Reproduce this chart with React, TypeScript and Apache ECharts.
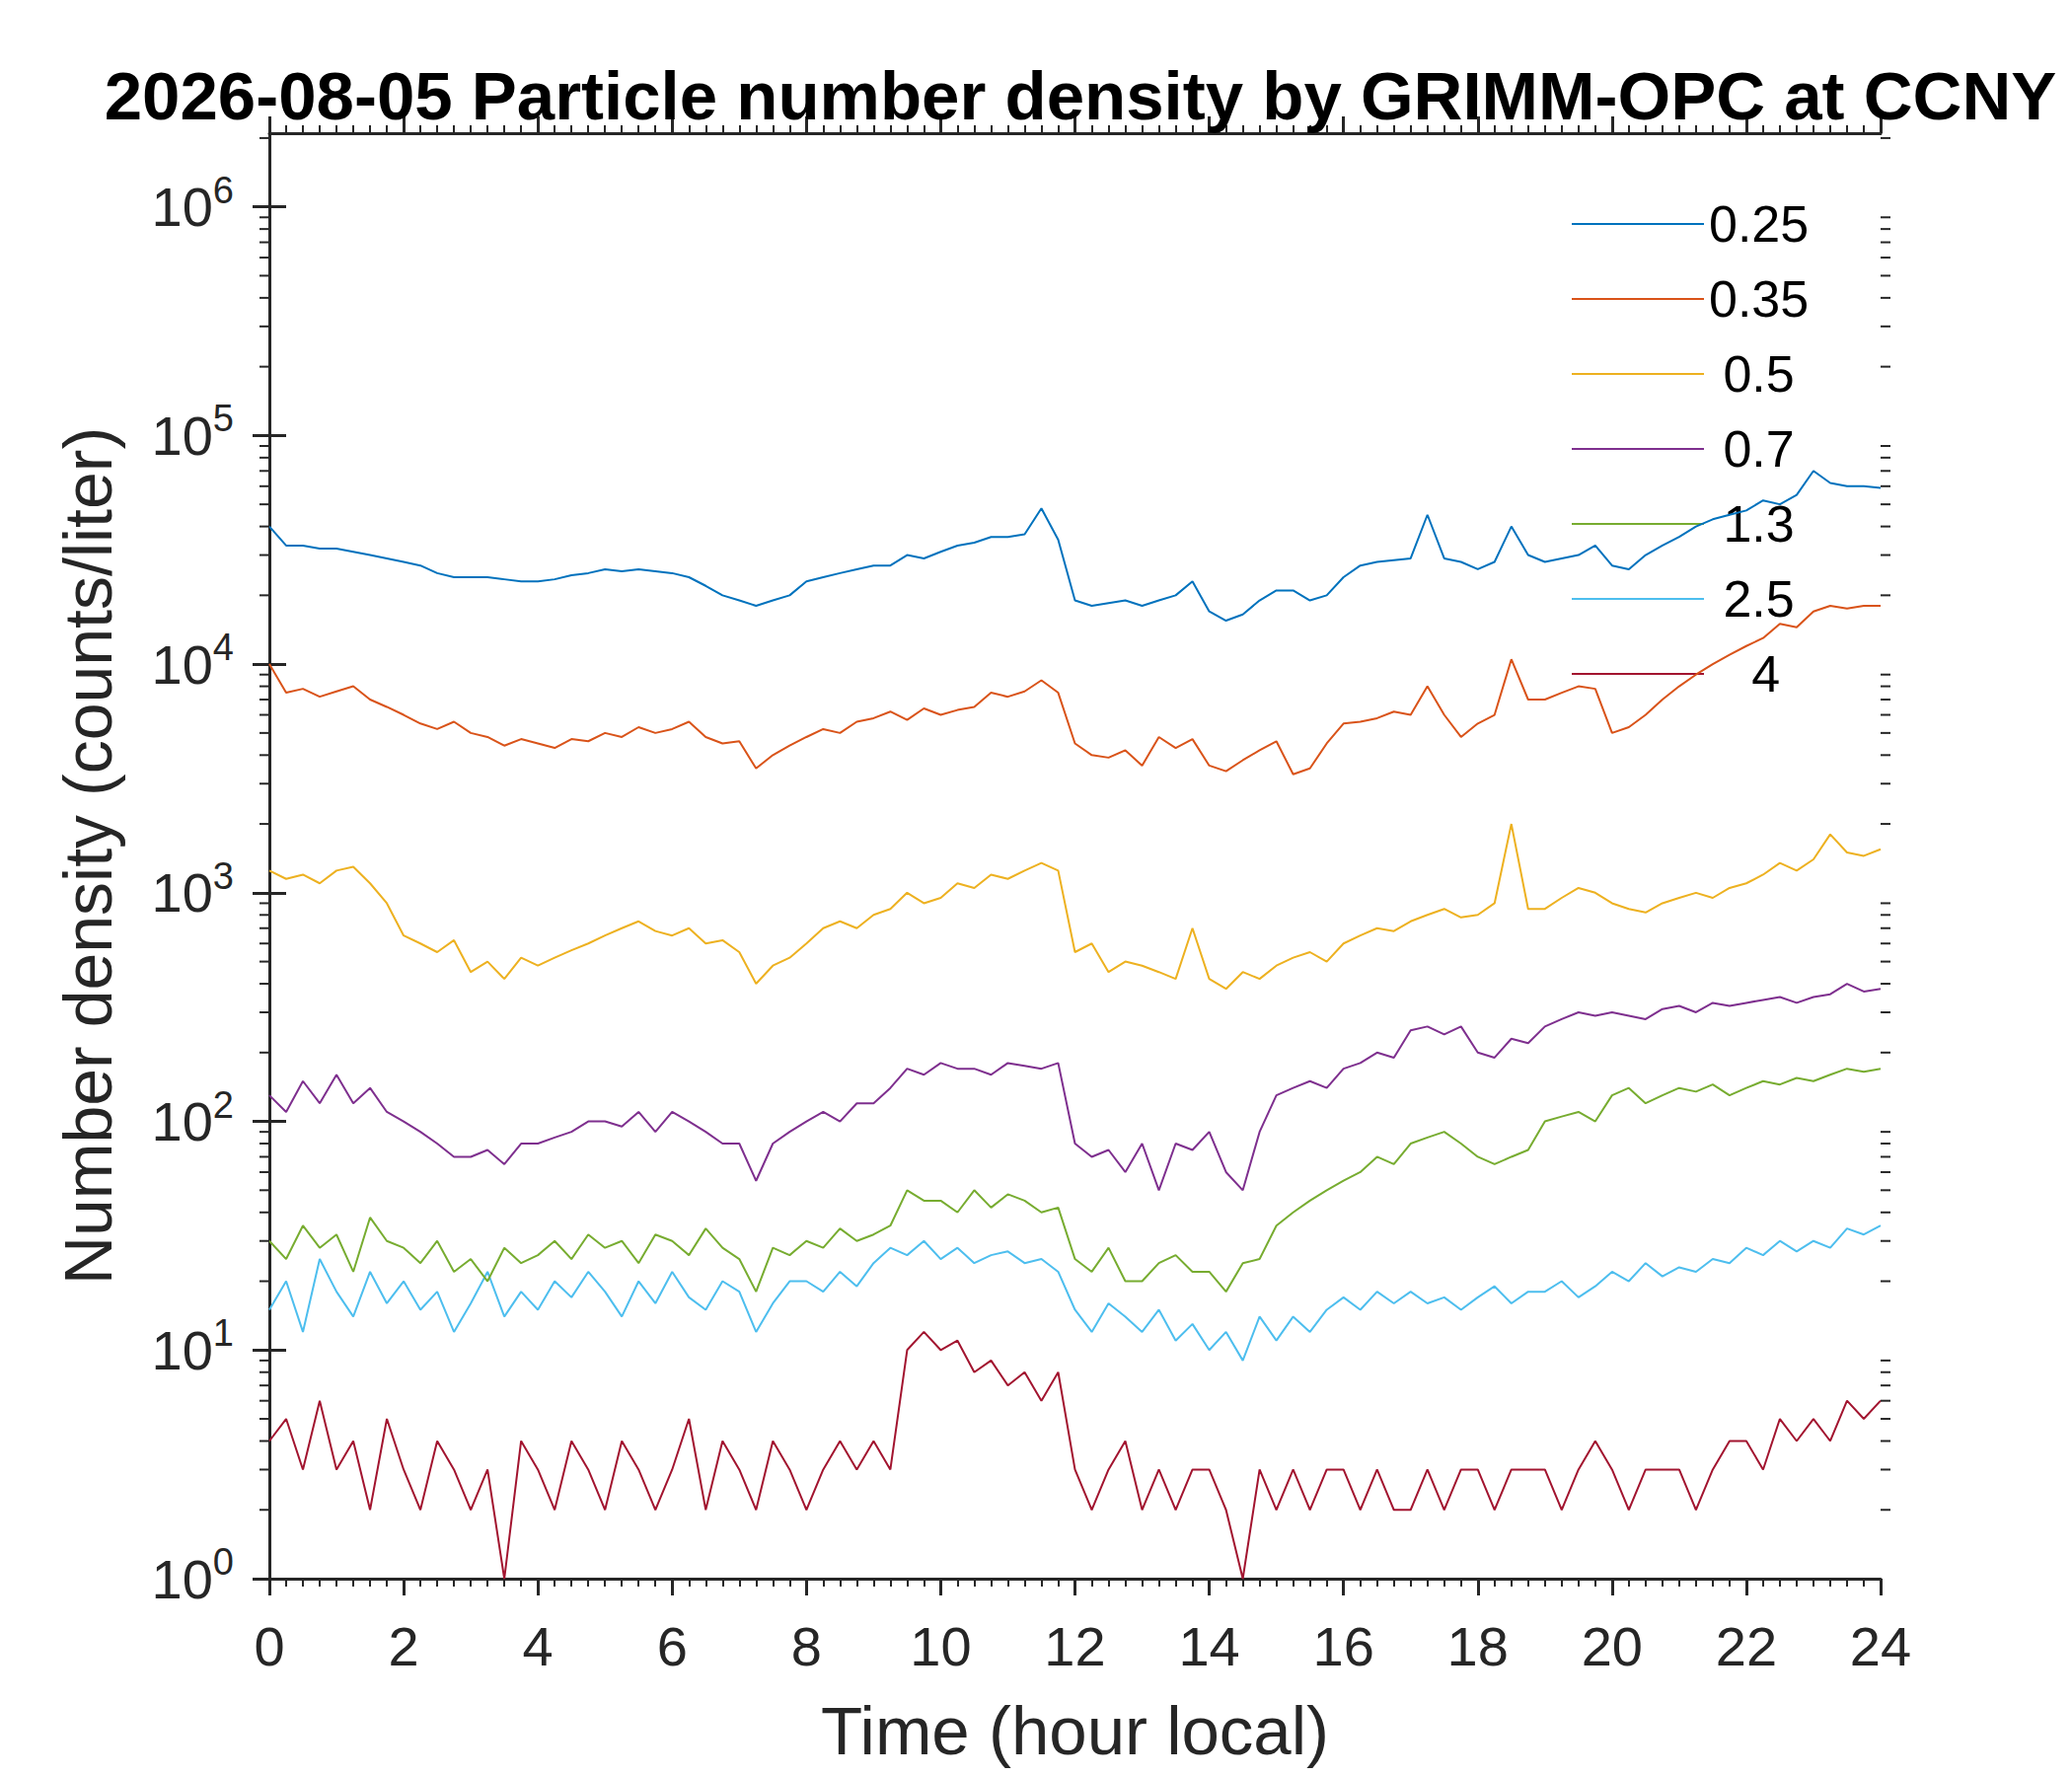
import { useEffect, useRef } from 'react'
import * as echarts from 'echarts'

const STEP = 0.25 // sample every 15 minutes
const SIZES = ['0.25', '0.35', ' 0.5', ' 0.7', ' 1.3', ' 2.5', '   4']
const COLORS = ['#0072BD', '#D95319', '#EDB120', '#7E2F8E', '#77AC30', '#4DBEEE', '#A2142F']

const d025 = [
  40000,33000,33000,32000, 32000,31000,30000,29000, 28000,27000,25000,24000, 24000,24000,23500,23000,
  23000,23500,24500,25000, 26000,25500,26000,25500, 25000,24000,22000,20000, 19000,18000,19000,20000,
  23000,24000,25000,26000, 27000,27000,30000,29000, 31000,33000,34000,36000, 36000,37000,48000,35000,
  19000,18000,18500,19000, 18000,19000,20000,23000, 17000,15500,16500,19000, 21000,21000,19000,20000,
  24000,27000,28000,28500, 29000,45000,29000,28000, 26000,28000,40000,30000, 28000,29000,30000,33000,
  27000,26000,30000,33000, 36000,40000,43000,45000, 47000,52000,50000,55000, 70000,62000,60000,60000, 59000,
]
const d035 = [
  10000,7500,7800,7200, 7600,8000,7000,6500, 6000,5500,5200,5600, 5000,4800,4400,4700,
  4500,4300,4700,4600, 5000,4800,5300,5000, 5200,5600,4800,4500, 4600,3500,4000,4400,
  4800,5200,5000,5600, 5800,6200,5700,6400, 6000,6300,6500,7500, 7200,7600,8500,7500,
  4500,4000,3900,4200, 3600,4800,4300,4700, 3600,3400,3800,4200, 4600,3300,3500,4500,
  5500,5600,5800,6200, 6000,8000,6000,4800, 5500,6000,10500,7000, 7000,7500,8000,7800,
  5000,5300,6000,7000, 8000,9000,10000,11000, 12000,13000,15000,14500, 17000,18000,17500,18000, 18000,
]
const d05 = [
  1250,1150,1200,1100, 1250,1300,1100,900, 650,600,550,620, 450,500,420,520,
  480,520,560,600, 650,700,750,680, 650,700,600,620, 550,400,480,520,
  600,700,750,700, 800,850,1000,900, 950,1100,1050,1200, 1150,1250,1350,1250,
  550,600,450,500, 480,450,420,700, 420,380,450,420, 480,520,550,500,
  600,650,700,680, 750,800,850,780, 800,900,2000,850, 850,950,1050,1000,
  900,850,820,900, 950,1000,950,1050, 1100,1200,1350,1250, 1400,1800,1500,1450, 1550,
]
const d07 = [
  130,110,150,120, 160,120,140,110, 100,90,80,70, 70,75,65,80,
  80,85,90,100, 100,95,110,90, 110,100,90,80, 80,55,80,90,
  100,110,100,120, 120,140,170,160, 180,170,170,160, 180,175,170,180,
  80,70,75,60, 80,50,80,75, 90,60,50,90, 130,140,150,140,
  170,180,200,190, 250,260,240,260, 200,190,230,220, 260,280,300,290,
  300,290,280,310, 320,300,330,320, 330,340,350,330, 350,360,400,370, 380,
]
const d13 = [
  30,25,35,28, 32,22,38,30, 28,24,30,22, 25,20,28,24,
  26,30,25,32, 28,30,24,32, 30,26,34,28, 25,18,28,26,
  30,28,34,30, 32,35,50,45, 45,40,50,42, 48,45,40,42,
  25,22,28,20, 20,24,26,22, 22,18,24,25, 35,40,45,50,
  55,60,70,65, 80,85,90,80, 70,65,70,75, 100,105,110,100,
  130,140,120,130, 140,135,145,130, 140,150,145,155, 150,160,170,165, 170,
]
const d25 = [
  15,20,12,25, 18,14,22,16, 20,15,18,12, 16,22,14,18,
  15,20,17,22, 18,14,20,16, 22,17,15,20, 18,12,16,20,
  20,18,22,19, 24,28,26,30, 25,28,24,26, 27,24,25,22,
  15,12,16,14, 12,15,11,13, 10,12,9,14, 11,14,12,15,
  17,15,18,16, 18,16,17,15, 17,19,16,18, 18,20,17,19,
  22,20,24,21, 23,22,25,24, 28,26,30,27, 30,28,34,32, 35,
]
const d4 = [
  4,5,3,6, 3,4,2,5, 3,2,4,3, 2,3,1,4,
  3,2,4,3, 2,4,3,2, 3,5,2,4, 3,2,4,3,
  2,3,4,3, 4,3,10,12, 10,11,8,9, 7,8,6,8,
  3,2,3,4, 2,3,2,3, 3,2,1,3, 2,3,2,3,
  3,2,3,2, 2,3,2,3, 3,2,3,3, 3,2,3,4,
  3,2,3,3, 3,2,3,4, 4,3,5,4, 5,4,6,5, 6,
]
const SERIES = [d025, d035, d05, d07, d13, d25, d4]

const Y_MIN = 1
const Y_MAX = 2.1e6
const AXIS = '#262626'
const FONT = '"Liberation Sans", Arial, sans-serif'

export default function App() {
  const ref = useRef<HTMLDivElement>(null)

  useEffect(() => {
    if (!ref.current) return
    const chart = echarts.init(ref.current, null, { renderer: 'svg' })

    // log minor ticks at 2..9 x 10^n, on both sides
    const minor: [number, number][] = []
    for (let n = 0; n <= 6; n++) {
      for (let k = 2; k <= 9; k++) {
        const v = k * Math.pow(10, n)
        if (v < Y_MAX) { minor.push([0, v]); minor.push([24, v]) }
      }
    }

    const axisCommon = {
      axisLine: { lineStyle: { color: AXIS, width: 3 } },
      splitLine: { show: false },
    }

    chart.setOption({
      animation: false,
      backgroundColor: '#fff',
      title: {
        text: '2026-08-05 Particle number density by GRIMM-OPC at CCNY',
        left: 1090, top: 58, textAlign: 'center',
        textStyle: { fontFamily: FONT, fontSize: 69, fontWeight: 'bold', color: '#000' },
      },
      grid: { left: 273, right: 194, top: 135, bottom: 200 },
      legend: {
        data: SERIES.map((_, i) => SIZES[i]),
        orient: 'vertical', left: 1588, top: 196, itemGap: 24,
        itemWidth: 134, itemHeight: 50, icon: 'path://M0,24L134,24L134,26L0,26Z',
        textStyle: { fontFamily: FONT, fontSize: 52, color: '#000' },
      },
      xAxis: [{
        type: 'value', min: 0, max: 24, interval: 2,
        ...axisCommon,
        axisTick: { inside: false, length: 17, lineStyle: { color: AXIS, width: 3 } },
        minorTick: { show: true, splitNumber: 8, length: 8, lineStyle: { color: AXIS, width: 2 } },
        minorSplitLine: { show: false },
        axisLabel: { fontFamily: FONT, fontSize: 56, color: AXIS, margin: 40 },
        name: 'Time (hour local)', nameLocation: 'middle', nameGap: 120,
        nameTextStyle: { fontFamily: FONT, fontSize: 69, color: AXIS },
      }, {
        type: 'value', min: 0, max: 24, interval: 2, position: 'top',
        ...axisCommon,
        axisTick: { inside: false, length: 17, lineStyle: { color: AXIS, width: 3 } },
        minorTick: { show: true, splitNumber: 8, length: 8, lineStyle: { color: AXIS, width: 2 } },
        minorSplitLine: { show: false },
        axisLabel: { show: false },
      }],
      yAxis: [{
        type: 'log', logBase: 10, min: Y_MIN, max: Y_MAX, interval: 1,
        ...axisCommon,
        axisTick: { inside: false, length: 17, lineStyle: { color: AXIS, width: 3 } },
        axisLabel: {
          showMaxLabel: false, margin: 36,
          formatter: (v: number) => `{b|10}{s|${Math.round(Math.log10(v))}}`,
          rich: {
            b: { fontFamily: FONT, fontSize: 56, color: AXIS },
            s: { fontFamily: FONT, fontSize: 38, color: AXIS, padding: [0, 0, 34, 0] },
          },
        },
        name: 'Number density (counts/liter)', nameLocation: 'middle', nameGap: 150,
        nameTextStyle: { fontFamily: FONT, fontSize: 68, color: AXIS },
      }, {
        type: 'log', logBase: 10, min: Y_MIN, max: Y_MAX, interval: 1, position: 'right',
        ...axisCommon,
        axisTick: { inside: false, length: 17, lineStyle: { color: AXIS, width: 3 } },
        axisLabel: { show: false },
      }],
      series: [
        ...SERIES.map((arr, i) => ({
          name: SIZES[i],
          type: 'line',
          data: arr.map((v, j) => [j * STEP, v]),
          showSymbol: false,
          lineStyle: { color: COLORS[i], width: 2 },
          itemStyle: { color: COLORS[i] },
          z: 2 + (SERIES.length - i),
        })),
        {
          type: 'custom',
          data: minor,
          clip: false,
          silent: true,
          renderItem: (_p: any, api: any) => {
            const side = api.value(0)
            const pt = api.coord([side, api.value(1)])
            const dx = side === 0 ? -10 : 10
            return {
              type: 'line',
              shape: { x1: pt[0], y1: pt[1], x2: pt[0] + dx, y2: pt[1] },
              style: { stroke: AXIS, lineWidth: 2 },
            }
          },
          z: 10,
        },
      ],
    })

    return () => chart.dispose()
  }, [])

  return <div ref={ref} style={{ width: 2100, height: 1800, margin: -8 }} />
}
